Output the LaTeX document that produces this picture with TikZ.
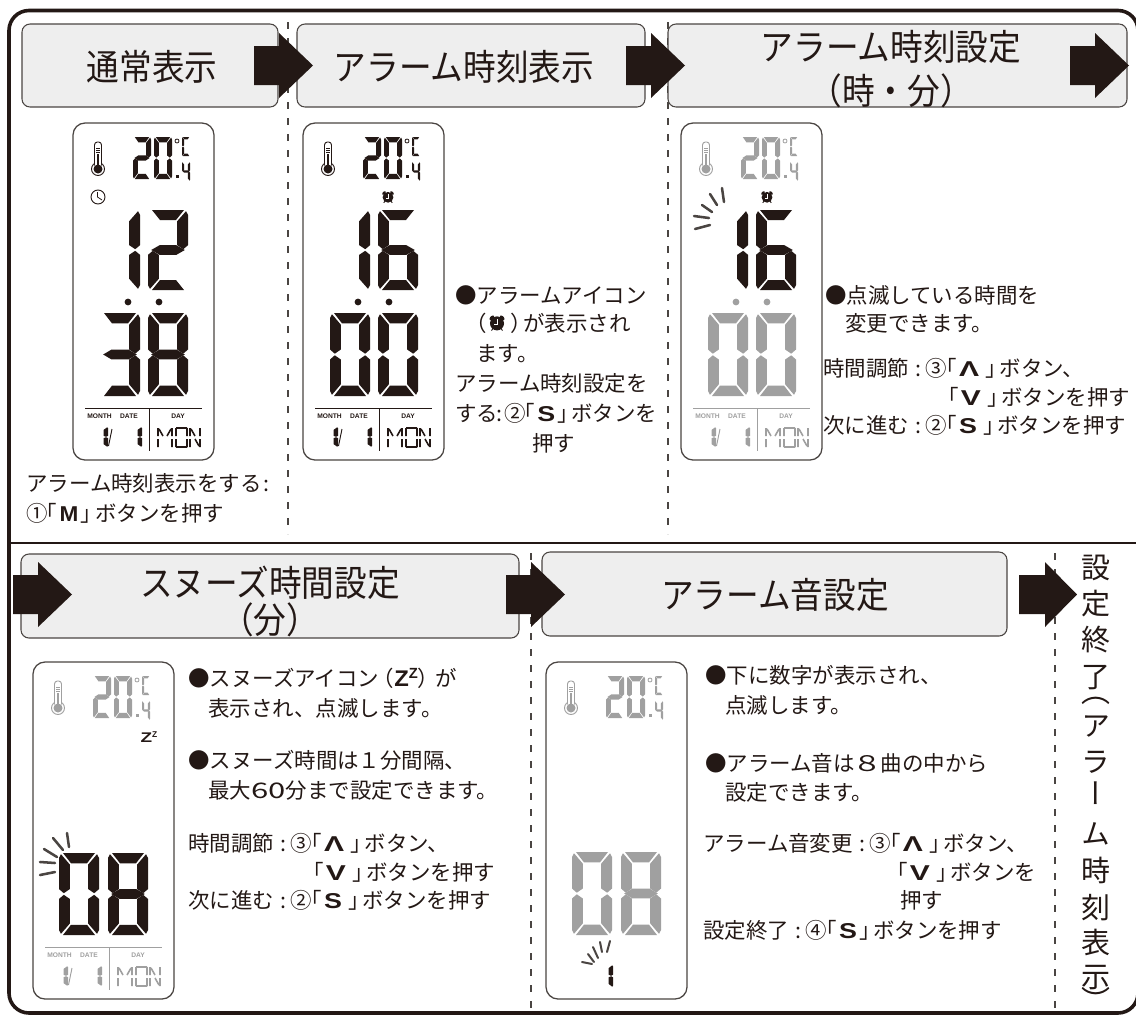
\documentclass[tikz,border=0pt]{standalone}
\usepackage{fontspec}
\setmainfont{Noto Sans CJK JP}
\newfontfamily\vfont[RawFeature=+vert]{Noto Sans CJK JP}
\newfontfamily\latb{Liberation Sans}
\definecolor{ink}{HTML}{231815}
\definecolor{dim}{HTML}{A0A0A0}
\definecolor{boxfill}{HTML}{EEEEEE}
\definecolor{edge}{HTML}{4A4542}
% seven segments in a unit cell
\newcommand\lcdsega[1]{\fill[#1] (.10,0)--(.90,0)--(.70,.125)--(.30,.125)--cycle;}
\newcommand\lcdsegb[1]{\fill[#1] (.95,.015)--(1,.06)--(1,.44)--(.88,.49)--(.73,.44)--(.73,.14)--cycle;}
\newcommand\lcdsegc[1]{\fill[#1] (1,.56)--(.88,.51)--(.73,.56)--(.73,.86)--(.95,.985)--(1,.94)--cycle;}
\newcommand\lcdsegd[1]{\fill[#1] (.30,.875)--(.70,.875)--(.90,1)--(.10,1)--cycle;}
\newcommand\lcdsege[1]{\fill[#1] (0,.56)--(.12,.51)--(.27,.56)--(.27,.86)--(.05,.985)--(0,.94)--cycle;}
\newcommand\lcdsegf[1]{\fill[#1] (.05,.015)--(0,.06)--(0,.44)--(.12,.49)--(.27,.44)--(.27,.14)--cycle;}
\newcommand\lcdsegg[1]{\fill[#1] (.29,.44)--(.71,.44)--(.92,.50)--(.71,.56)--(.29,.56)--(.08,.50)--cycle;}
\def\dzero{a,b,c,d,e,f}\def\done{b,c}\def\dtwo{a,b,g,e,d}\def\dthree{a,b,g,c,d}
\def\dfour{f,g,b,c}\def\dsix{a,f,g,e,c,d}\def\deight{a,b,c,d,e,f,g}\def\dcee{a,f,e,d}
\newcommand\lcd[6]{\begin{scope}[shift={(#1,#2)},xscale=#3,yscale=#4]
  \foreach \s in #5 {\csname lcdseg\s\endcsname{#6}}\end{scope}}
% panel parts, local coordinates
\newcommand\lcdcase{\draw[edge,line width=.95pt,fill=white,rounded corners=9pt] (0,0) rectangle (141,337);}
\newcommand\lcdtemp[1]{%
  \draw[#1,line width=.7pt] (25,46) circle(6.5);
  \filldraw[draw=#1,fill=white,line width=.7pt,rounded corners=2.2pt] (21.5,19) rectangle (28.5,44);
  \fill[white] (21.9,40) rectangle (28.1,45);
  \fill[#1] (25,46) circle(4.5);
  \fill[#1] (24,31) rectangle (26,44);
  \draw[#1,line width=.3pt] (23,25)--(27,25) (23,27)--(27,27) (23,29)--(27,29);
  \lcd{60}{14}{18}{42}{\dtwo}{#1}\lcd{81}{14}{18}{42}{\dzero}{#1}
  \draw[#1,line width=.6pt] (104,18) circle(2);
  \lcd{109}{14}{8}{19}{\dcee}{#1}\lcd{109}{39}{8}{19}{\dfour}{#1}
  \fill[#1] (103,52) rectangle (106,55);}
\newcommand\lcddate[2]{%
  \draw[#1,line width=.6pt] (12,285)--(129,285) (76,285)--(76,328);
  \node[lab,#1] (#2m) at (26.5,293) {MONTH};
  \node[lab,#1] (#2d) at (56,293) {DATE};
  \node[lab,#1] (#2y) at (105,293) {DAY};
  \lcd{19}{304}{16}{20}{\done}{#1}\lcd{53}{304}{16}{20}{\done}{#1}
  \draw[#1,line width=.7pt] (35.5,323)--(39,306);
  \draw[#1,line width=1.2pt]
    (85,305)--(85,313) (85,316)--(85,324) (99,305)--(99,313) (99,316)--(99,324)
    (86,306)--(90,313) (98,306)--(94,313)
    (103,305)--(114,305) (103,324)--(114,324)
    (103,305)--(103,313) (103,316)--(103,324) (114,305)--(114,313) (114,316)--(114,324)
    (117,305)--(117,313) (117,316)--(117,324) (127,305)--(127,313) (127,316)--(127,324)
    (118,306)--(122,313) (122,316)--(126,323);}
\newcommand\lcddots[1]{\fill[#1] (55,179) circle(3.4) (86,179) circle(3.4);}
\newcommand\alarmicon[3]{\begin{scope}[shift={(#1,#2)},scale=#3]
  \fill[ink] (0,.3) circle(5.4);
  \fill[ink,rotate around={45:(-4,-4)}] (-4,-4) ellipse(2.2 and 1.3);
  \fill[ink,rotate around={-45:(4,-4)}] (4,-4) ellipse(2.2 and 1.3);
  \draw[ink,line width=.7pt] (-3,4)--(-4.2,5.8) (3,4)--(4.2,5.8);
  \draw[white,line width=.55pt] (.5,-3)--(.5,1.4)--(-2,1.4);
  \end{scope}}
\newcommand\bigarrow[4]{\fill[ink] (#1,#4-19.5)--(#2,#4-19.5)--(#2,#4-32.5)--(#3,#4)--(#2,#4+32.5)--(#2,#4+19.5)--(#1,#4+19.5)--cycle;}
% inline text helpers
\newcommand\kb{\hspace{-.55em}「\hspace{.1em}}
\newcommand\ke{\hspace{.3em}」\hspace{-.35em}}
\newcommand\kc{\hspace{.3em}:\hspace{.2em}}
\newcommand\bL[1]{\scalebox{1.25}[1]{{\latb\bfseries #1}}}
\newcommand\bU{\scalebox{1.4}[1]{{\latb\bfseries Λ}}}
\newcommand\bD{\scalebox{1.4}[1]{{\latb\bfseries V}}}
\newcommand\hx[1]{\scalebox{1}[1.1]{#1}}
\tikzset{
  hdr/.style={draw=edge,fill=boxfill,line width=.8pt,rounded corners=6pt,inner sep=0pt},
  htxt/.style={ink,font=\fontsize{24.5pt}{30pt}\selectfont,inner sep=0pt},
  txt/.style={ink,anchor=west,inner sep=0pt,text height=14.2pt,text depth=1.9pt,font=\fontsize{16.1pt}{20pt}\selectfont},
  vtxt/.style={ink,inner sep=0pt,text height=19.1pt,text depth=2.6pt,font=\fontsize{21.75pt}{26pt}\selectfont\vfont},
  lab/.style={inner sep=0pt,font=\fontsize{5pt}{6pt}\selectfont\latb\bfseries},
  vdash/.style={edge,line width=1pt,dash pattern=on 5.25pt off 6.75pt},
  ray/.style={line width=1.9pt,line cap=round,color=#1}
}
\begin{document}
\begin{tikzpicture}[x=.75pt,y=-.75pt]
\useasboundingbox (0,0) rectangle (1136,1015);
% frame
\draw[ink,line width=2.7pt,rounded corners=15pt] (9,10.5) rectangle (1138,1013);
\draw[ink,line width=2.2pt] (9,543)--(1138,543);
% dashed separators
\draw[vdash] (288,22)--(288,534);
\draw[vdash] (668,22)--(668,534);
\draw[vdash] (531,553)--(531,1015);
\draw[vdash] (1055,553)--(1055,1015);
% header boxes
\node[hdr,minimum width=192pt,minimum height=62.25pt] (h1) at (150,65.5) {};
\node[hdr,minimum width=261pt,minimum height=62.25pt] (h2) at (471,65.5) {};
\node[hdr,minimum width=344.25pt,minimum height=62.25pt] (h3) at (897.5,65.5) {};
\node[hdr,minimum width=373.5pt,minimum height=63pt] (h4) at (270,596) {};
\node[hdr,minimum width=348.75pt,minimum height=63pt] (h5) at (774.5,594) {};
\node[htxt] (l1) at (152,67) {\hx{通常表示}};
\node[htxt] (l2) at (464,67) {\hx{アラーム時刻表示}};
\node[htxt] (l3a) at (891,47) {\hx{アラーム時刻設定}};
\node[htxt] (l3b) at (891,91) {\hx{（時・分）}};
\node[htxt] (l4a) at (270,583) {\hx{スヌーズ時間設定}};
\node[htxt] (l4b) at (270,620) {\hx{（分）}};
\node[htxt] (l5) at (775,595) {\hx{アラーム音設定}};
% arrows
\bigarrow{254}{279}{313}{65.5}
\bigarrow{626}{651}{685}{65.5}
\bigarrow{1070}{1095}{1129}{65.5}
\bigarrow{13}{38}{72}{594.5}
\bigarrow{506}{531}{565}{594.5}
\bigarrow{1019}{1045}{1077}{594.5}
% panel 1
\begin{scope}[shift={(73,123)}]
  \lcdcase\lcdtemp{ink}
  \draw[ink,line width=.7pt] (25,74) circle(7);
  \draw[ink,line width=.6pt] (24.5,69)--(24.5,74)--(29,77);
  \lcd{27}{87}{40}{80}{\done}{ink}\lcd{75}{87}{40}{80}{\dtwo}{ink}
  \lcddots{ink}
  \lcd{27}{190}{40}{83}{\dthree}{ink}\lcd{75}{190}{40}{83}{\deight}{ink}
  \lcddate{ink}{pa}
\end{scope}
% panel 2
\begin{scope}[shift={(303,123)}]
  \lcdcase\lcdtemp{ink}
  \alarmicon{85}{74}{1}
  \lcd{27}{87}{40}{80}{\done}{ink}\lcd{75}{87}{40}{80}{\dsix}{ink}
  \lcddots{ink}
  \lcd{27}{190}{40}{83}{\dzero}{ink}\lcd{75}{190}{40}{83}{\dzero}{ink}
  \lcddate{ink}{pb}
\end{scope}
% panel 3
\begin{scope}[shift={(681,123)}]
  \lcdcase\lcdtemp{dim}
  \alarmicon{86}{74}{1}
  \lcd{27}{87}{40}{80}{\done}{ink}\lcd{75}{87}{40}{80}{\dsix}{ink}
  \lcddots{dim}
  \lcd{27}{190}{40}{83}{\dzero}{dim}\lcd{75}{190}{40}{83}{\dzero}{dim}
  \lcddate{dim}{pc}
  \draw[ray=edge] (14,106)--(29,102) (13,93)--(28,95) (21,82)--(31,89) (29,71)--(36,82) (41,65)--(43,79);
\end{scope}
% panel 4
\begin{scope}[shift={(33,662)}]
  \lcdcase\lcdtemp{dim}
  \node[inner sep=0pt,ink] (zz) at (116,75) {\fontsize{10.5pt}{11pt}\selectfont\latb\bfseries\scalebox{1.35}[1]{Z}\raisebox{.35em}{\scalebox{.6}{Z}}};
  \lcd{26}{191}{40}{82}{\dzero}{ink}\lcd{75}{191}{40}{82}{\deight}{ink}
  \lcddate{dim}{pd}
  \draw[ray=edge] (7,213)--(22,210) (7,200)--(22,201) (11,187)--(24,195) (20,176)--(30,188) (34,171)--(36,185);
\end{scope}
% panel 5
\begin{scope}[shift={(546,662)}]
  \lcdcase\lcdtemp{dim}
  \lcd{26}{190}{40}{83}{\dzero}{dim}\lcd{75}{190}{40}{83}{\deight}{dim}
  \draw[ray=edge,line width=1.5pt] (36,300)--(46,302) (42,292)--(48,300) (47,285)--(52,296) (54,280)--(56,290) (64,279)--(61,290);
  \lcd{51}{303}{16}{22}{\done}{ink}
\end{scope}
% texts, panel 1
\node[txt] (a1) at (26,483) {アラーム時刻表示をする\hspace{.1em}:};
\node[txt] (a2) at (26,513) {①\kb\scalebox{1.05}[1]{{\latb\bfseries M}}\hspace{.1em}」\hspace{-.3em}ボタンを押す};
% texts, panel 2
\node[txt] (b1) at (455,295) {●アラームアイコン};
\node[txt] (b2) at (465,323) {（\hspace{1.1em}）\hspace{-.4em}が表示され};
\alarmicon{497}{323}{1.3}
\node[txt] (b3) at (476,353) {ます。};
\node[txt] (b4) at (455,383) {アラーム時刻設定を};
\node[txt] (b5) at (455,413) {する\hspace{-.1em}:\hspace{.1em}②\kb\bL{S}\hspace{.1em}」\hspace{-.35em}ボタンを};
\node[txt] (b6) at (532,443) {押す};
% texts, panel 3
\node[txt] (c1) at (825,295) {●点滅している時間を};
\node[txt] (c2) at (845,323) {変更できます。};
\node[txt] (c3) at (823,368) {時間調節\kc③\kb\bU\ke ボタン、};
\node[txt] (c4) at (937,397) {「\hspace{.1em}\bD\ke ボタンを押す};
\node[txt] (c5) at (823,425) {次に進む\kc②\kb\bL{S}\ke ボタンを押す};
% texts, panel 4
\node[txt] (d1) at (188,678) {●スヌーズアイコン\hspace{-.3em}（{\fontsize{17pt}{17pt}\selectfont\latb\bfseries\scalebox{1.05}[1]{Z}\raisebox{.35em}{\scalebox{.65}{Z}}}）\hspace{-.2em}が};
\node[txt] (d2) at (208,708) {表示され、点滅します。};
\node[txt] (d3) at (188,760) {●スヌーズ時間は１分間隔、};
\node[txt] (d4) at (208,790) {最大\scalebox{1.45}[1]{60}分まで設定できます。};
\node[txt] (d5) at (188,843) {時間調節\kc③\kb\bU\ke ボタン、};
\node[txt] (d6) at (302,872) {「\hspace{.1em}\bD\ke ボタンを押す};
\node[txt] (d7) at (188,900) {次に進む\kc②\kb\bL{S}\ke ボタンを押す};
% texts, panel 5
\node[txt] (e1) at (705,675) {●下に数字が表示され、};
\node[txt] (e2) at (725,705) {点滅します。};
\node[txt] (e3) at (705,763) {●アラーム音は\hspace{-.1em}\scalebox{1.4}[1]{８}\hspace{-.1em}曲の中から};
\node[txt] (e4) at (725,792) {設定できます。};
\node[txt] (e5) at (703,843) {アラーム音変更\kc③\kb\bU\ke ボタン、};
\node[txt] (e6) at (886,872) {「\hspace{.1em}\bD\ke ボタンを};
\node[txt] (e7) at (900,900) {押す};
\node[txt] (e8) at (703,930) {設定終了\kc④\kb\bL{S}\hspace{.1em}」\hspace{-.35em}ボタンを押す};
% vertical text
\foreach \yy/\cc [count=\i] in {567/設,603/定,639/終,676/了,691/（,725/ア,761/ラ,793/ー,833/ム,870/時,907/刻,942/表,976/示,1000/）}
  \node[vtxt] (v\i) at (1096,\yy) {\cc};
\end{tikzpicture}
\end{document}
